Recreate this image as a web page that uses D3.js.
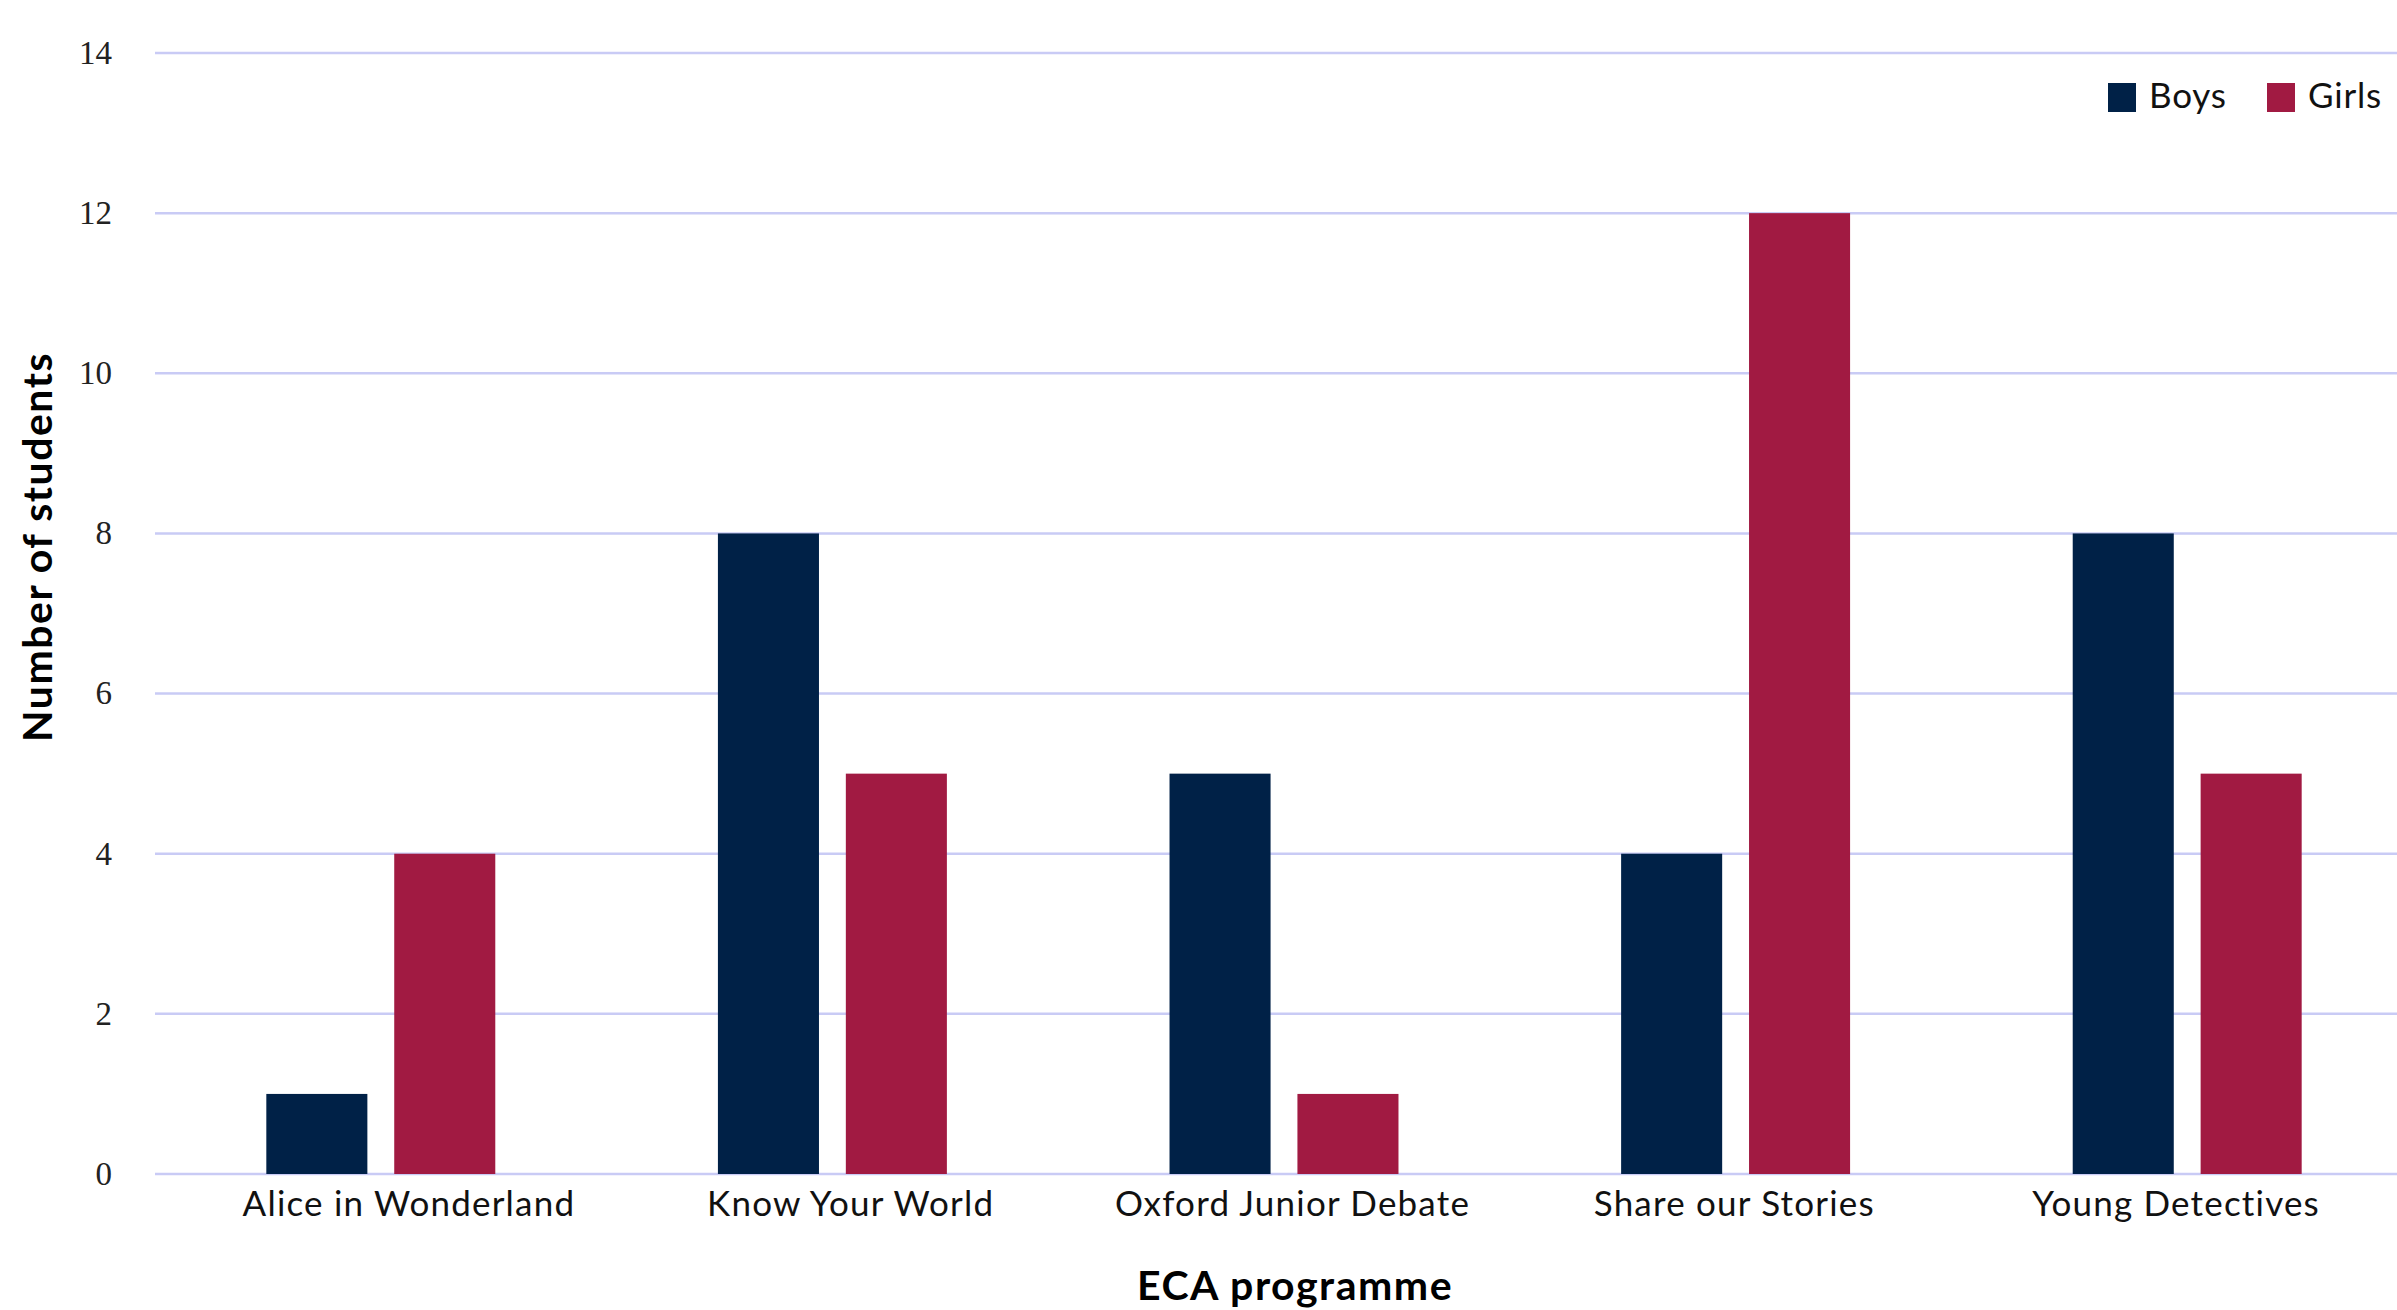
<!DOCTYPE html>
<meta charset="utf-8">
<head>
    <script type="text/javascript" src="https://cdn.jsdelivr.net/npm/d3@7"></script>
    <style>
        body { margin: 0; background: white; }
        .tick-label { font: 33px "Liberation Serif", serif; fill: #222; }
        .cat-label { font: 35px Lato, sans-serif; letter-spacing: 1.2px; fill: #111; }
        .axis-title { font: bold 41px Lato, sans-serif; letter-spacing: 1.5px; fill: #000; }
        .legend-label { font: 35px Lato, sans-serif; letter-spacing: 0.8px; fill: #111; }
        .grid line { stroke: #c9cbf5; stroke-width: 2.5; }
    </style>
    <title>ECA programme</title>
</head>
<body>
    <div id="chart"></div>
    <script>
        var w = 2397;
        var h = 1310;

        // data
        var programmes = ["Alice in Wonderland", "Know Your World", "Oxford Junior Debate", "Share our Stories", "Young Detectives"];
        var groups = ["Boys", "Girls"];
        var boys = [1, 8, 5, 4, 8];
        var girls = [4, 5, 1, 12, 5];
        var yTicks = [0, 2, 4, 6, 8, 10, 12, 14];
        var COLORS = { Boys: "#002147", Girls: "#a11a42" };

        var rows = programmes.map((p, i) => ({ programme: p, Boys: boys[i], Girls: girls[i] }));

        var svg = d3.select("#chart")
            .append("svg")
            .attr("width", w)
            .attr("height", h);

        var x0 = d3.scaleBand()
            .domain(programmes)
            .range([155, 2413])
            .paddingInner(0.493)
            .paddingOuter(0.2465);

        var x1 = d3.scaleBand()
            .domain(groups)
            .range([0, x0.bandwidth()])
            .paddingInner(0.21);

        // labels sit on a slightly narrower band than the bars
        var xLabel = d3.scaleBand()
            .domain(programmes)
            .range([188, 2397]);

        var y = d3.scaleLinear()
            .domain([0, 14])
            .range([1174, 53]);

        // gridlines
        svg.append("g")
            .attr("class", "grid")
            .selectAll("line")
            .data(yTicks)
            .enter()
            .append("line")
            .attr("x1", 155)
            .attr("x2", w)
            .attr("y1", d => y(d))
            .attr("y2", d => y(d));

        // y tick labels
        svg.append("g")
            .selectAll("text")
            .data(yTicks)
            .enter()
            .append("text")
            .attr("class", "tick-label")
            .attr("x", 112)
            .attr("y", d => y(d))
            .attr("dy", "0.33em")
            .attr("text-anchor", "end")
            .text(d => d);

        // bars
        svg.append("g")
            .selectAll("g")
            .data(rows)
            .enter()
            .append("g")
            .attr("transform", d => "translate(" + x0(d.programme) + ",0)")
            .selectAll("rect")
            .data(d => groups.map(g => ({ key: g, value: d[g] })))
            .enter()
            .append("rect")
            .attr("x", d => x1(d.key))
            .attr("width", x1.bandwidth())
            .attr("y", d => y(d.value))
            .attr("height", d => y(0) - y(d.value))
            .style("fill", d => COLORS[d.key]);

        // category labels
        svg.append("g")
            .selectAll("text")
            .data(programmes)
            .enter()
            .append("text")
            .attr("class", "cat-label")
            .attr("x", d => xLabel(d) + xLabel.bandwidth() / 2)
            .attr("y", 1216)
            .attr("text-anchor", "middle")
            .text(d => d);

        // axis titles
        svg.append("text")
            .attr("class", "axis-title")
            .attr("x", 1295)
            .attr("y", 1300)
            .attr("text-anchor", "middle")
            .text("ECA programme");

        svg.append("text")
            .attr("class", "axis-title")
            .attr("transform", "translate(52,547) rotate(-90)")
            .attr("text-anchor", "middle")
            .text("Number of students");

        // legend
        var legendX = [2108, 2267];
        var legend = svg.append("g")
            .selectAll("g")
            .data(groups)
            .enter()
            .append("g")
            .attr("transform", (d, i) => "translate(" + legendX[i] + ",83)");

        legend.append("rect")
            .attr("width", 28)
            .attr("height", 29)
            .style("fill", d => COLORS[d]);

        legend.append("text")
            .attr("class", "legend-label")
            .attr("x", 41)
            .attr("y", 25)
            .text(d => d);
    </script>
</body>
</html>
